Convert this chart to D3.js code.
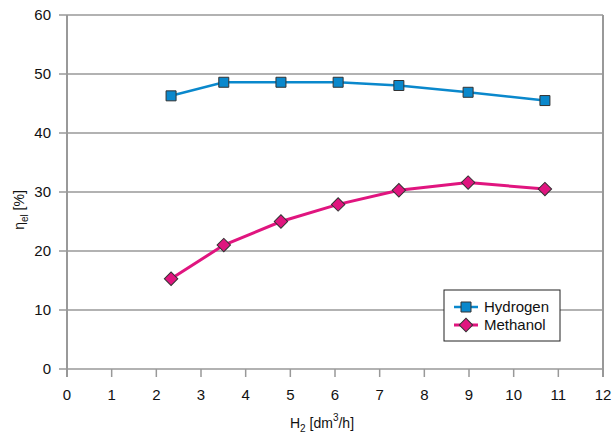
<!DOCTYPE html>
<html>
<head>
<meta charset="utf-8">
<script src="https://cdn.jsdelivr.net/npm/d3@7"></script>
<style>
  body { margin: 0; background: #fff; }
  text { font-family: "Liberation Sans", Arial, sans-serif; fill: #111; }
</style>
</head>
<body>
<div class="chart"></div>
<script>
// data
var xHydrogen = [2.33, 3.51, 4.79, 6.07, 7.43, 8.98, 10.70];
var yHydrogen = [46.3, 48.6, 48.6, 48.6, 48.05, 46.9, 45.5];
var xMethanol = [2.33, 3.51, 4.79, 6.07, 7.43, 8.98, 10.70];
var yMethanol = [15.3, 21.0, 25.0, 27.9, 30.3, 31.6, 30.5];
var xTicks = [0, 1, 2, 3, 4, 5, 6, 7, 8, 9, 10, 11, 12];
var yTicks = [0, 10, 20, 30, 40, 50, 60];

var width = 615, height = 436;
var margin = {left: 67, right: 12, top: 15, bottom: 67};

var svg = d3.select(".chart").append("svg")
    .attr("width", width)
    .attr("height", height);

var x = d3.scaleLinear().domain([0, 12]).range([margin.left, width - margin.right]);
var y = d3.scaleLinear().domain([0, 60]).range([height - margin.bottom, margin.top]);

var grey = "#999";

// gridlines
svg.selectAll(".grid")
    .data(yTicks)
    .enter().append("line")
    .attr("x1", x(0) - 8)
    .attr("x2", x(12))
    .attr("y1", function(d) { return y(d); })
    .attr("y2", function(d) { return y(d); })
    .style("stroke", grey)
    .style("stroke-width", 1.5);

// frame
svg.append("line").attr("x1", x(0)).attr("x2", x(0)).attr("y1", y(60)).attr("y2", y(0) + 8)
    .style("stroke", grey).style("stroke-width", 2);
svg.append("line").attr("x1", x(12)).attr("x2", x(12)).attr("y1", y(60)).attr("y2", y(0) + 8)
    .style("stroke", grey).style("stroke-width", 2);

// x ticks
svg.selectAll(".xtick")
    .data(xTicks)
    .enter().append("line")
    .attr("x1", function(d) { return x(d); })
    .attr("x2", function(d) { return x(d); })
    .attr("y1", y(0))
    .attr("y2", y(0) + 8)
    .style("stroke", grey)
    .style("stroke-width", 1.5);

svg.selectAll(".xlabel")
    .data(xTicks)
    .enter().append("text")
    .attr("x", function(d) { return x(d); })
    .attr("y", y(0) + 31)
    .attr("text-anchor", "middle")
    .attr("font-size", "15px")
    .text(function(d) { return d; });

svg.selectAll(".ylabel")
    .data(yTicks)
    .enter().append("text")
    .attr("x", x(0) - 16)
    .attr("y", function(d) { return y(d) + 5; })
    .attr("text-anchor", "end")
    .attr("font-size", "15px")
    .text(function(d) { return d; });

// axis titles
var xt = svg.append("text")
    .attr("x", 322)
    .attr("y", 428)
    .attr("text-anchor", "middle")
    .attr("font-size", "14px");
xt.append("tspan").text("H");
xt.append("tspan").attr("font-size", "10px").attr("dy", 4).text("2");
xt.append("tspan").attr("dy", -4).text(" [dm");
xt.append("tspan").attr("font-size", "10px").attr("dy", -7).text("3");
xt.append("tspan").attr("dy", 7).text("/h]");

var yt = svg.append("text")
    .attr("transform", "translate(24," + 210 + ") rotate(-90)")
    .attr("text-anchor", "middle")
    .attr("font-size", "14px");
yt.append("tspan").text("η");
yt.append("tspan").attr("font-size", "10px").attr("dy", 4).text("el");
yt.append("tspan").attr("dy", -4).text(" [%]");

// series
var series = [
  {name: "Hydrogen", xs: xHydrogen, ys: yHydrogen, color: "#0a88cc", rot: 0, size: 100, width: 2.5},
  {name: "Methanol", xs: xMethanol, ys: yMethanol, color: "#e0157f", rot: 45, size: 90, width: 3}
];

var line = d3.line()
    .x(function(d) { return x(d[0]); })
    .y(function(d) { return y(d[1]); });

series.forEach(function(s) {
  var pts = s.xs.map(function(v, i) { return [v, s.ys[i]]; });
  svg.append("path")
      .datum(pts)
      .attr("d", line)
      .style("fill", "none")
      .style("stroke", s.color)
      .style("stroke-width", s.width);

  svg.selectAll(".pt-" + s.name)
      .data(pts)
      .enter().append("path")
      .attr("transform", function(d) { return "translate(" + x(d[0]) + "," + y(d[1]) + ") rotate(" + s.rot + ")"; })
      .attr("d", d3.symbol().type(d3.symbolSquare).size(s.size))
      .style("fill", s.color)
      .style("stroke", "#333")
      .style("stroke-width", 1);
});

// legend
var lg = svg.append("g").attr("transform", "translate(444,290)");
lg.append("rect")
    .attr("width", 116)
    .attr("height", 51)
    .style("fill", "#fff")
    .style("stroke", "#222")
    .style("stroke-width", 1);

series.forEach(function(s, i) {
  var cy = 17 + i * 18;
  lg.append("line")
      .attr("x1", 10).attr("x2", 34)
      .attr("y1", cy).attr("y2", cy)
      .style("stroke", s.color)
      .style("stroke-width", s.width);
  lg.append("path")
      .attr("transform", "translate(22," + cy + ") rotate(" + s.rot + ")")
      .attr("d", d3.symbol().type(d3.symbolSquare).size(s.size))
      .style("fill", s.color)
      .style("stroke", "#333")
      .style("stroke-width", 1);
  lg.append("text")
      .attr("x", 40)
      .attr("y", cy + 5)
      .attr("font-size", "15px")
      .text(s.name);
});
</script>
</body>
</html>
